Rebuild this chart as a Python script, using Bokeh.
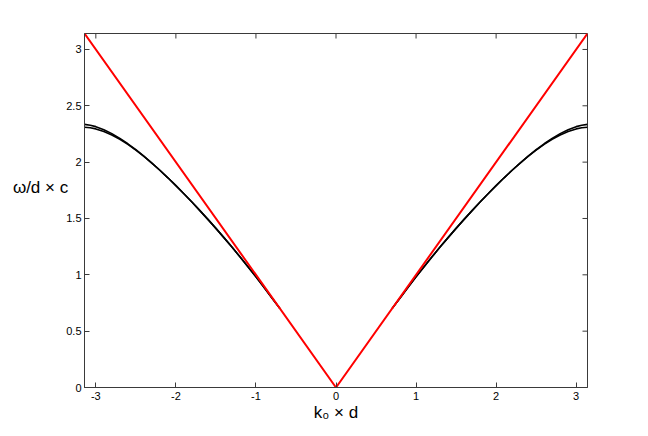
import math
from bokeh.plotting import figure
from bokeh.models import LinearAxis, FixedTicker, Range1d
from bokeh.embed import file_html
from bokeh.resources import INLINE

# ---- data ----
k_branch = [0.70, 0.80, 0.90, 1.00, 1.10, 1.20, 1.30, 1.40, 1.50, 1.60, 1.70, 1.80,
            1.90, 2.00, 2.10, 2.20, 2.30, 2.40, 2.50, 2.60, 2.70, 2.80, 2.90, 3.00,
            3.07, 3.1416]
omega_upper = [0.70, 0.795, 0.89, 0.982, 1.072, 1.160, 1.246, 1.330, 1.412, 1.492, 1.570, 1.646,
               1.720, 1.792, 1.861, 1.928, 1.992, 2.053, 2.110, 2.163, 2.211, 2.253, 2.288, 2.315,
               2.328, 2.335]
omega_lower = [0.70, 0.795, 0.89, 0.982, 1.072, 1.160, 1.246, 1.330, 1.412, 1.492, 1.570, 1.646,
               1.720, 1.792, 1.861, 1.928, 1.991, 2.051, 2.107, 2.158, 2.203, 2.241, 2.272, 2.295,
               2.305, 2.310]
k_light = [-math.pi, 0.0, math.pi]
omega_light = [math.pi, 0.0, math.pi]

x_ticks = [-3, -2, -1, 0, 1, 2, 3]
x_tick_labels = ["-3", "-2", "-1", "0", "1", "2", "3"]
y_ticks = [0, 0.5, 1, 1.5, 2, 2.5, 3]
y_tick_labels = ["0", "0.5", "1", "1.5", "2", "2.5", "3"]

x_min, x_max = -math.pi, math.pi
y_min, y_max = 0.0, math.pi

FONT = "Liberation Sans"
AX = "#3a3a3a"

p = figure(output_backend="svg", toolbar_location=None,
           frame_width=503, frame_height=354,
           min_border_left=84, min_border_right=53, min_border_top=33, min_border_bottom=41,
           x_range=Range1d(x_min, x_max), y_range=Range1d(y_min, y_max),
           x_axis_location=None, y_axis_location=None)
p.background_fill_color = "white"
p.border_fill_color = "white"
p.outline_line_color = AX
p.outline_line_width = 1
p.xgrid.visible = False
p.ygrid.visible = False

def style(ax, ticks, labels):
    ax.ticker = FixedTicker(ticks=ticks)
    ax.major_label_overrides = {t: l for t, l in zip(ticks, labels)}
    ax.minor_tick_line_color = None
    ax.major_tick_in = 5
    ax.major_tick_out = 0
    ax.major_tick_line_color = AX
    ax.axis_line_color = AX
    ax.major_label_text_font = FONT
    ax.major_label_text_font_size = "11px"
    ax.major_label_text_color = "black"
    ax.axis_label_text_font = FONT
    ax.axis_label_text_font_size = "17px"
    ax.axis_label_text_font_style = "normal"
    ax.axis_label_text_color = "black"

xb = LinearAxis(); style(xb, x_ticks, x_tick_labels); xb.major_label_standoff = 4
xb.axis_label = "k₀ × d"
xb.axis_label_standoff = 0
yl = LinearAxis(); style(yl, y_ticks, y_tick_labels); yl.major_label_standoff = 3
yl.axis_label = "ω/d × c\n \n "
yl.axis_label_orientation = "horizontal"
yl.axis_label_standoff = -5
p.add_layout(xb, "below")
p.add_layout(yl, "left")

# mirrored inward ticks on top and right edges
p.ray(x=x_ticks, y=[y_max] * len(x_ticks), length=5, length_units="screen",
      angle=-math.pi / 2, line_color=AX, line_width=1)
p.ray(x=[x_max] * len(y_ticks), y=y_ticks, length=5, length_units="screen",
      angle=math.pi, line_color=AX, line_width=1)

# black dispersion branches (both sides)
for w in (omega_upper, omega_lower):
    p.line(k_branch, w, line_color="black", line_width=1.6)
    p.line([-k for k in k_branch], w, line_color="black", line_width=1.6)

# light line
p.line(k_light, omega_light, line_color="#ff0000", line_width=2)

open("out.html", "w").write(file_html(p, INLINE))
